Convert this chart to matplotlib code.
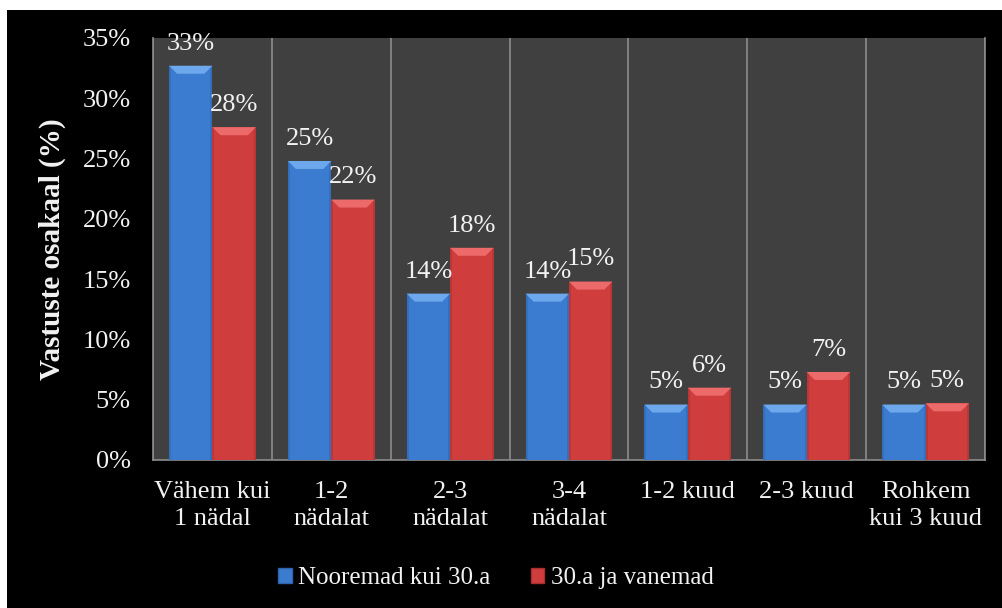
import numpy as np
import matplotlib
matplotlib.use("Agg")
import matplotlib.pyplot as plt
from matplotlib.patches import Rectangle, Polygon
from matplotlib.ticker import PercentFormatter, FixedLocator

plt.rcParams['font.family'] = ['Liberation Serif', 'DejaVu Serif']

categories = ["Vähem kui\n1 nädal", "1-2\nnädalat", "2-3\nnädalat", "3-4\nnädalat",
              "1-2 kuud", "2-3 kuud", "Rohkem\nkui 3 kuud"]
series_names = ["Nooremad kui 30.a", "30.a ja vanemad"]
young = [32.7, 24.8, 13.8, 13.8, 4.6, 4.6, 4.6]
older = [27.6, 21.6, 17.6, 14.8, 6.0, 7.3, 4.7]
yticks = [0, 5, 10, 15, 20, 25, 30, 35]

# body colour, top bevel colour, darker edge colour
blue = ("#3b7bd0", "#6ea8ec", "#2f64ad")
red = ("#cf3d3d", "#ec6a6a", "#a93030")
txt = "#f2f2f2"

fig = plt.figure(figsize=(10.02, 6.08), dpi=100, facecolor="white")
fig.patches.append(Rectangle((7 / 1002, 0), 1 - 7 / 1002, 1 - 10 / 608,
                             transform=fig.transFigure, facecolor="black",
                             edgecolor="none", zorder=-10))

ax = fig.add_axes([153 / 1002, 148 / 608, 832 / 1002, 422 / 608])
ax.set_facecolor("#404040")

x = np.arange(len(categories))
w = 0.365


def bevel_bars(xs, vals, cols):
    bars = ax.bar(xs, vals, width=w, color=cols[0], edgecolor="none", zorder=3)
    # pixel -> data scale for the bevel depth
    ppx = 1 / (832 / len(categories))
    ppy = 35 / 422
    bh = 8 * ppy
    bw = 8 * ppx
    for b in bars:
        x0, x1 = b.get_x(), b.get_x() + b.get_width()
        top = b.get_height()
        # darker side strips
        ax.add_patch(Rectangle((x0, 0), 2 * ppx, top, facecolor=cols[2],
                               edgecolor="none", alpha=0.5, zorder=4))
        ax.add_patch(Rectangle((x1 - 2 * ppx, 0), 2 * ppx, top, facecolor=cols[2],
                               edgecolor="none", alpha=0.5, zorder=4))
        # lighter bevelled top
        ax.add_patch(Polygon([(x0, top), (x1, top), (x1 - bw, top - bh),
                              (x0 + bw, top - bh)], closed=True,
                             facecolor=cols[1], edgecolor="none", zorder=5))
        ax.annotate(f"{top:.0f}%", (b.get_x() + b.get_width() / 2, top),
                    xytext=(0, 8), textcoords="offset points",
                    ha="center", va="bottom", color=txt, fontsize=19,
                    zorder=6)
    return bars


b1 = bevel_bars(x - w / 2, young, blue)
b2 = bevel_bars(x + w / 2, older, red)

ax.set_xlim(-0.5, len(categories) - 0.5)
ax.set_ylim(0, 35)
ax.yaxis.set_major_locator(FixedLocator(yticks))
ax.yaxis.set_major_formatter(PercentFormatter(decimals=0))
ax.set_xticks(x)
ax.set_xticklabels(categories, linespacing=1.3)
ax.xaxis.set_minor_locator(FixedLocator(np.arange(-0.5, len(categories), 1)))
ax.grid(True, which="minor", axis="x", color="#8c8c8c", linewidth=1.2, zorder=1)
ax.tick_params(axis="both", which="both", length=0, colors=txt, labelsize=19)
ax.tick_params(axis="y", pad=16)
ax.tick_params(axis="x", pad=15)

for s in ["left", "bottom", "right"]:
    ax.spines[s].set_color("#8c8c8c")
    ax.spines[s].set_linewidth(1.2)
ax.spines["top"].set_visible(False)

ax.set_ylabel("Vastuste osakaal (%)", fontsize=21, fontweight="bold",
              color=txt, labelpad=12)

handles = [Rectangle((0, 0), 1, 1, facecolor=blue[0], edgecolor=blue[2]),
           Rectangle((0, 0), 1, 1, facecolor=red[0], edgecolor=red[2])]
leg = fig.legend(handles, series_names, loc="center", ncol=2,
                 bbox_to_anchor=(496 / 1002, 1 - 578 / 608), frameon=False,
                 fontsize=18, handlelength=0.55, handleheight=0.55,
                 handletextpad=0.25, columnspacing=1.6)
for t in leg.get_texts():
    t.set_color(txt)

fig.savefig("out.png", dpi=100, facecolor=fig.get_facecolor())
